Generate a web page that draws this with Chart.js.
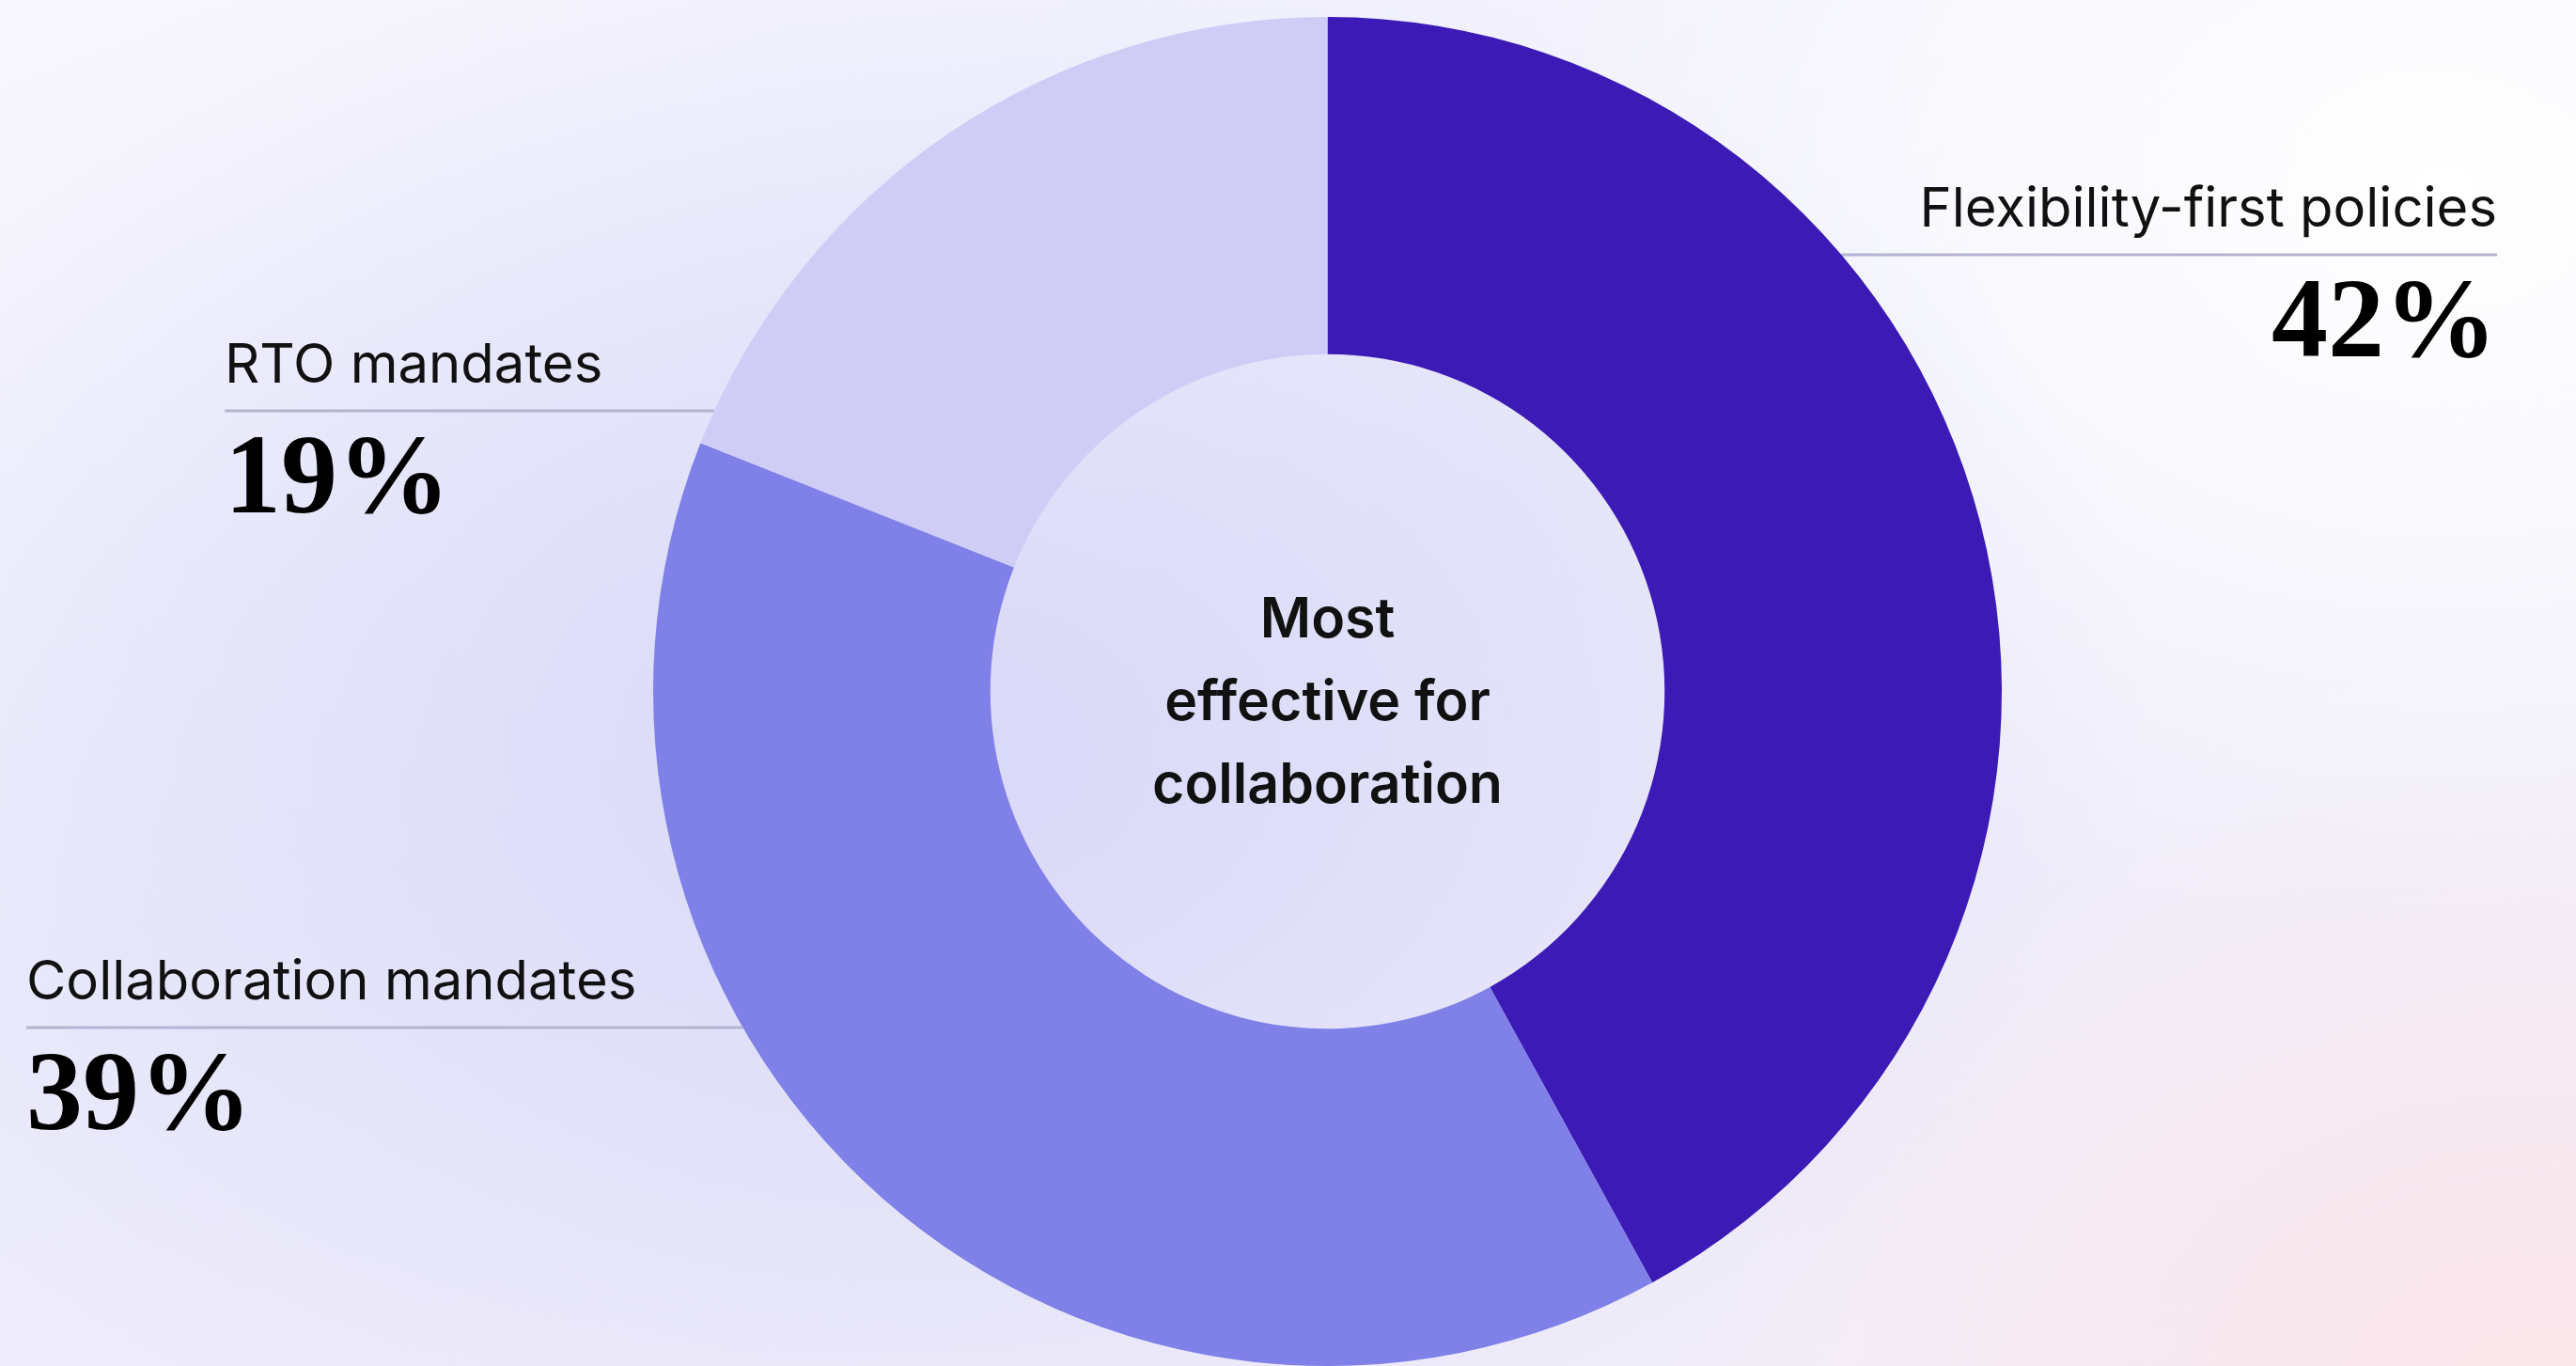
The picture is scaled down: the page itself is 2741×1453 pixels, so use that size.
<!DOCTYPE html>
<html>
<head>
<meta charset="utf-8">
<script src="https://cdn.jsdelivr.net/npm/chart.js@4/dist/chart.umd.min.js"></script>
<style>
  html, body { margin: 0; padding: 0; }
  body {
    width: 2741px; height: 1453px; overflow: hidden;
    background:
      radial-gradient(ellipse 900px 700px at 2700px 1500px, rgba(251,228,232,0.95) 0%, rgba(251,228,232,0) 100%),
      radial-gradient(ellipse 1300px 900px at 1000px 800px, rgba(216,216,248,1) 0%, rgba(216,216,248,0) 100%),
      radial-gradient(ellipse 1100px 800px at 2600px 200px, rgba(255,255,255,1) 0%, rgba(255,255,255,0.6) 50%, rgba(255,255,255,0) 100%),
      linear-gradient(160deg, #f8f7fe 0%, #ececfc 45%, #f4eef8 100%);
  }
  #wrap { position: absolute; left: 0; top: 0; width: 2741px; height: 1453px; }
</style>
</head>
<body>
<div id="wrap"><canvas id="donut"></canvas></div>
<script>
const categories = ["Flexibility-first policies", "Collaboration mandates", "RTO mandates"];
const shares = [42, 39, 19];
const sliceColors = ["#3c1ab5", "#7f80e8", "#cfcdf6"];
const centerLines = ["Most", "effective for", "collaboration"];

// label placement: anchor x, alignment, y of the rule line
const labelSpots = [
    { x: 2657, align: "right", lineY: 271 },
    { x: 28, align: "left", lineY: 1093 },
    { x: 239, align: "left", lineY: 437 }
];

const calloutPlugin = {
    id: "callouts",
    beforeDatasetsDraw(chart) {
        const ctx = chart.ctx;
        const arc = chart.getDatasetMeta(0).data[0];
        const cx = arc.x, cy = arc.y, r = arc.outerRadius;
        ctx.save();
        ctx.strokeStyle = "#b3b4cf";
        ctx.lineWidth = 3;
        labelSpots.forEach(s => {
            const dy = s.lineY - cy;
            const dx = Math.sqrt(Math.max(r * r - dy * dy, 0));
            const edge = s.align === "right" ? cx + dx : cx - dx;
            ctx.beginPath();
            ctx.moveTo(s.x, s.lineY);
            ctx.lineTo(edge, s.lineY);
            ctx.stroke();
        });
        ctx.restore();
    },
    afterDatasetsDraw(chart) {
        const ctx = chart.ctx;
        const arc = chart.getDatasetMeta(0).data[0];
        ctx.save();
        labelSpots.forEach((s, i) => {
            ctx.textAlign = s.align;
            ctx.textBaseline = "alphabetic";
            ctx.fillStyle = "#111111";
            ctx.font = "400 58px Inter, 'Noto Sans', sans-serif";
            ctx.fillText(categories[i], s.x, s.lineY - 30);
            ctx.fillStyle = "#000000";
            ctx.font = "bold 120px 'Liberation Serif', serif";
            ctx.fillText(shares[i] + "%", s.x, s.lineY + 108);
        });
        ctx.textAlign = "center";
        ctx.textBaseline = "middle";
        ctx.fillStyle = "#111111";
        ctx.font = "600 59px Inter, 'Noto Sans', sans-serif";
        centerLines.forEach((t, k) => {
            ctx.fillText(t, arc.x, arc.y - 75 + k * 88);
        });
        ctx.restore();
    }
};

new Chart(document.getElementById("donut"), {
    type: "doughnut",
    data: {
        labels: categories,
        datasets: [{
            data: shares,
            backgroundColor: sliceColors,
            borderWidth: 0,
            hoverOffset: 0
        }]
    },
    options: {
        responsive: true,
        maintainAspectRatio: false,
        animation: false,
        cutout: "50%",
        layout: { padding: { top: 18, bottom: 0, left: 694, right: 610 } },
        plugins: {
            legend: { display: false },
            tooltip: { enabled: false }
        }
    },
    plugins: [calloutPlugin]
});
</script>
</body>
</html>
